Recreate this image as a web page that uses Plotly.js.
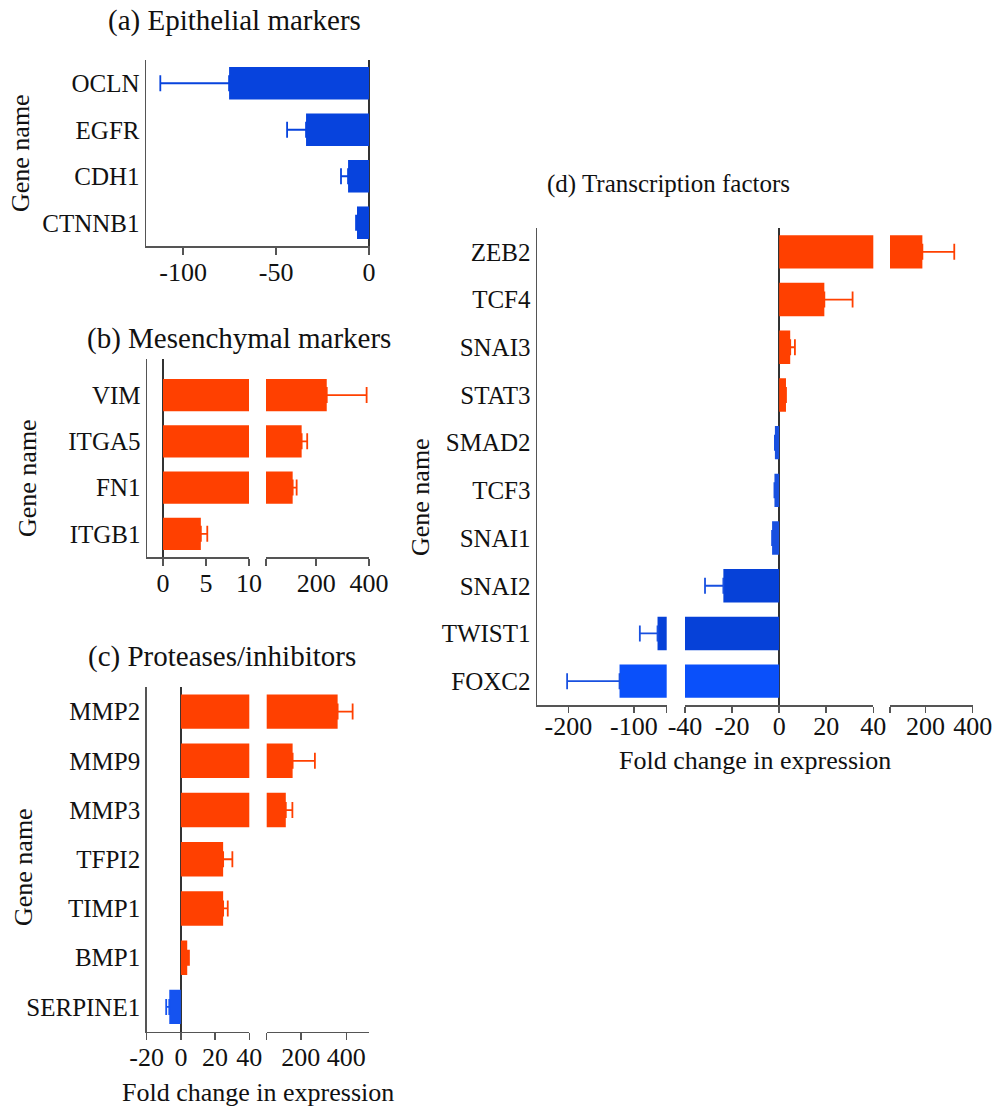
<!DOCTYPE html>
<html><head><meta charset="utf-8">
<script src="https://cdn.plot.ly/plotly-3.0.1.min.js"></script>
<style>html,body{margin:0;padding:0;background:#fff}#chart{width:993px;height:1110px}</style>
</head><body><div id="chart"></div>
<script>
// ---------------- data ----------------
const genesA = ['OCLN','EGFR','CDH1','CTNNB1'];
const valsA  = [-75.3, -33.9, -11.3, -6.5];
const errA   = [37, 10.2, 3.8, 0.5];

const genesB = ['VIM','ITGA5','FN1','ITGB1'];
const valsB  = [240, 145, 111, 4.4];
const errB   = [151, 21, 15, 0.75];

const genesC = ['MMP2','MMP9','MMP3','TFPI2','TIMP1','BMP1','SERPINE1'];
const valsC  = [362, 164, 134, 24.7, 24.7, 3.7, -6.8];
const errC   = [66, 98, 29, 5.4, 2.7, 1.0, 1.8];

const genesD = ['ZEB2','TCF4','SNAI3','STAT3','SMAD2','TCF3','SNAI1','SNAI2','TWIST1','FOXC2'];
const valsD  = [187, 19.2, 4.7, 2.9, -1.8, -2.0, -3.0, -23.7, -64, -122];
const errD   = [135, 12, 2, null, null, null, null, 7.8, 27, 80];

const ticksA  = [[-100,-50,0]];
const ticksB  = [[0,5,10],[10,200,400]];
const tlabB   = [['0','5','10'],['','200','400']];
const ticksC  = [[-20,0,20,40],[50,200,400]];
const tlabC   = [['-20','0','20','40'],['','200','400']];
const ticksD  = [[-200,-100,-50],[-40,-20,0,20,40],[50,200,400]];
const tlabD   = [['-200','-100',''],['-40','-20','0','20','40'],['','200','400']];

// ---------------- styles ----------------
const W = 993, H = 1110;
const RED = '#FF4000';
const colA = ['#0743DD','#0743DD','#0743DD','#0743DD'];
const colC = [RED,RED,RED,RED,RED,RED,'#1553F0'];
const colD = [RED,RED,RED,RED,'#1850E0','#1850E0','#1850E0','#0641D8','#0641D8','#0A50FA'];
const colB = [RED,RED,RED,RED];
const FONT = 'Liberation Serif, Times New Roman, serif';
const AX = '#555';

const data = [];
const layout = {
  width: W, height: H, margin: {l:0, r:0, t:0, b:0},
  paper_bgcolor: '#fff', plot_bgcolor: 'rgba(0,0,0,0)',
  barmode: 'overlay', bargap: 0.3, showlegend: false,
  font: {family: FONT, color: '#111'},
  annotations: []
};

let xCount = 0;
function panel(m, genes, vals, errs, colors, ypx, yrange, segs, tv, tt, standoff, tlen) {
  const yname = 'yaxis' + (m === 1 ? '' : m);
  const firstX = xCount + 1;
  layout[yname] = {
    domain: [1 - ypx[1]/H, 1 - ypx[0]/H],
    type: 'category', categoryorder: 'array', categoryarray: genes,
    range: yrange, showline: true, linecolor: AX, linewidth: 1.5,
    ticks: '', showgrid: false, zeroline: false,
    tickfont: {family: FONT, size: 25, color: '#111'},
    anchor: 'x' + (firstX === 1 ? '' : firstX), fixedrange: true
  };
  segs.forEach((s, k) => {
    xCount++;
    const xn = xCount;
    const xname = 'xaxis' + (xn === 1 ? '' : xn);
    const lo = s.range[0], hi = s.range[1];
    layout[xname] = {
      domain: [s.px[0]/W, s.px[1]/W], range: s.range,
      anchor: 'y' + (m === 1 ? '' : m),
      showline: true, linecolor: AX, linewidth: 1.5,
      ticks: 'outside', ticklen: tlen, tickwidth: 1.5, tickcolor: AX,
      ticklabelstandoff: standoff,
      tickmode: 'array', tickvals: tv[k], ticktext: tt ? tt[k] : tv[k].map(String),
      tickfont: {family: FONT, size: 26, color: '#111'},
      showgrid: false,
      zeroline: (lo < 0 && hi > 0), zerolinecolor: '#333', zerolinewidth: 1.5,
      fixedrange: true
    };
    [1, -1].forEach(sign => {
      const xs = vals.map(v => (v * sign > 0 ? v : null));
      const plus = vals.map((v, i) => (sign > 0 && v > 0 && v > lo && v <= hi && errs[i] !== null) ? errs[i] : null);
      const minus = vals.map((v, i) => (sign < 0 && v < 0 && v >= lo && v < hi && errs[i] !== null) ? errs[i] : null);
      const hasErr = (sign > 0 ? plus : minus).some(e => e !== null);
      const plusArr = sign > 0 ? plus : vals.map((v,i)=> minus[i] !== null ? 0 : null);
      const minusArr = sign < 0 ? minus : vals.map((v,i)=> plus[i] !== null ? 0 : null);
      const errColor = sign > 0 ? RED : (colors[vals.findIndex(v => v < 0)] || '#0743DD');
      const tr = {
        type: 'bar', orientation: 'h', x: xs, y: genes,
        xaxis: 'x' + (xn === 1 ? '' : xn), yaxis: 'y' + (m === 1 ? '' : m),
        marker: {color: colors, line: {width: 0}},
        hoverinfo: 'skip'
      };
      if (hasErr) {
        tr.error_x = {type: 'data', symmetric: false, array: plusArr, arrayminus: minusArr,
                      color: errColor, thickness: 1.8, width: 8};
      }
      data.push(tr);
    });
  });
}

panel(1, genesA, valsA, errA, colA, [60, 246], [3.5, -0.5],
      [{px: [146, 370], range: [-120, 0.5]}], ticksA, null, -5, 7);
panel(2, genesB, valsB, errB, colB, [359, 557], [3.5, -0.78],
      [{px: [147, 249], range: [-1.86, 10]}, {px: [266, 369], range: [10, 400]}], ticksB, tlabB, -5, 7);
panel(3, genesC, valsC, errC, colC, [687, 1031.5], [6.5, -0.5],
      [{px: [146.7, 249.3], range: [-20, 40]}, {px: [266.7, 369], range: [50, 500]}], ticksC, tlabC, -5, 7);
panel(4, genesD, valsD, errD, colD, [228, 705], [9.5, -0.5],
      [{px: [537, 666.7], range: [-248, -50]}, {px: [685, 873.3], range: [-40, 40]},
       {px: [890, 972.7], range: [50, 400]}], ticksD, tlabD, -9, 6);

function ann(text, xpx, ypx, size, angle) {
  layout.annotations.push({
    text: text, xref: 'paper', yref: 'paper', x: xpx / W, y: 1 - ypx / H,
    xanchor: 'center', yanchor: 'middle', showarrow: false, textangle: angle || 0,
    font: {family: FONT, size: size, color: '#111'}
  });
}
ann('(a) Epithelial markers', 234, 20, 29);
ann('(b) Mesenchymal markers', 239, 338, 29);
ann('(c) Proteases/inhibitors', 222, 656, 29);
ann('(d) Transcription factors', 668, 184, 25);
ann('Gene name', 20, 153, 26, -90);
ann('Gene name', 27, 478, 26, -90);
ann('Gene name', 23, 867, 26, -90);
ann('Gene name', 420, 497, 26, -90);
ann('Fold change in expression', 258, 1092, 26);
ann('Fold change in expression', 755, 760, 26);

Plotly.newPlot('chart', data, layout, {staticPlot: true, displayModeBar: false});
</script>
</body></html>
